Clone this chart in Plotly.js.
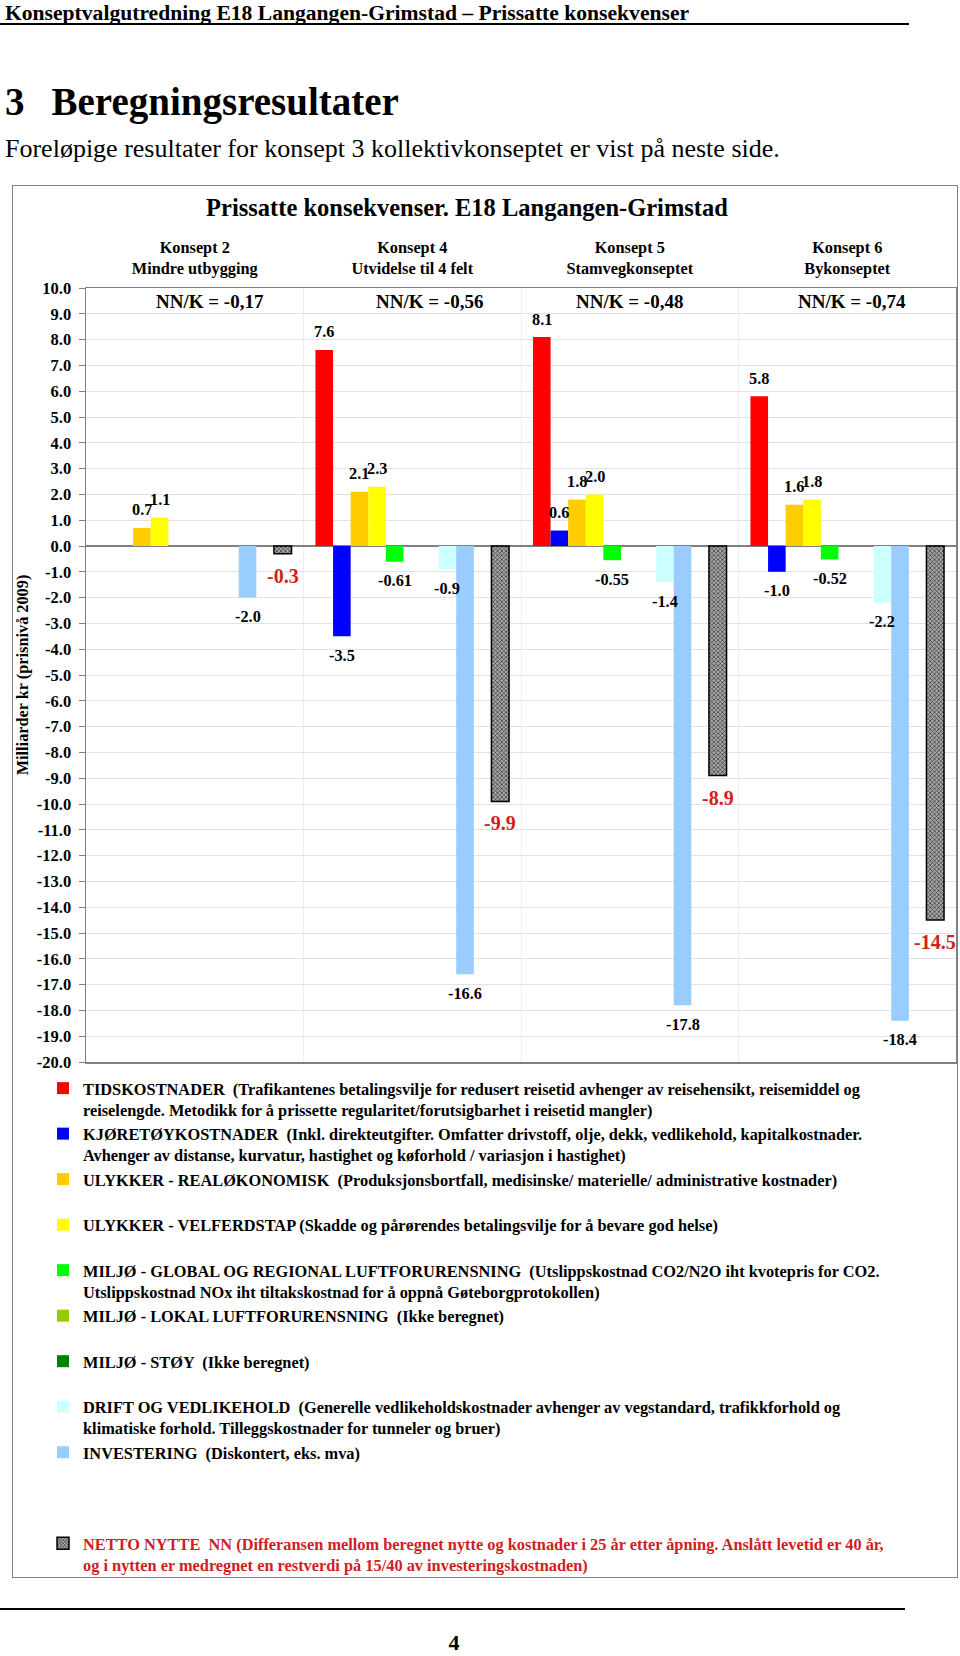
<!DOCTYPE html>
<html><head><meta charset="utf-8">
<script src="https://cdn.plot.ly/plotly-3.0.1.min.js"></script>
<style>
body{margin:0;background:#fff;}
#page{position:relative;width:960px;height:1656px;overflow:hidden;font-family:"Liberation Serif","Times New Roman",serif;color:#000;}
.abs{position:absolute;white-space:nowrap;}
</style></head><body>
<div id="page">
 <div class="abs" style="left:5px;top:0px;font-size:21.6px;font-weight:bold;line-height:26px;">Konseptvalgutredning E18 Langangen-Grimstad – Prissatte konsekvenser</div>
 <div class="abs" style="left:0;top:23px;width:909px;height:2px;background:#000;"></div>
 <div class="abs" style="left:5px;top:78px;font-size:39px;font-weight:bold;line-height:48px;">3<span style="display:inline-block;width:27px"></span>Beregningsresultater</div>
 <div class="abs" style="left:5px;top:134px;font-size:26px;line-height:30px;">Foreløpige resultater for konsept 3 kollektivkonseptet er vist på neste side.</div>
 <div class="abs" style="left:12px;top:185px;width:944px;height:1391px;border:1px solid #808080;"></div>
 <div id="chart" class="abs" style="left:0;top:0;width:960px;height:1656px;"></div>
 <div class="abs" style="left:0;top:1608px;width:905px;height:2px;background:#000;"></div>
 <div class="abs" style="left:434px;top:1631px;width:40px;text-align:center;font-size:22px;font-weight:bold;line-height:24px;">4</div>
</div>
<script>
// ---- data ----
const categories = ['Konsept 2<br>Mindre utbygging', 'Konsept 4<br>Utvidelse til 4 felt', 'Konsept 5<br>Stamvegkonseptet', 'Konsept 6<br>Bykonseptet'];
const nnkLabels = ['NN/K = -0,17', 'NN/K = -0,56', 'NN/K = -0,48', 'NN/K = -0,74'];
const tidskostnader  = [null, 7.6, 8.1, 5.8];
const kjoretoy       = [null, -3.5, 0.6, -1.0];
const ulykkerReal    = [0.7, 2.1, 1.8, 1.6];
const ulykkerVelferd = [1.1, 2.3, 2.0, 1.8];
const miljoGlobal    = [null, -0.61, -0.55, -0.52];
const miljoLokal     = [null, null, null, null];
const miljoStoy      = [null, null, null, null];
const driftVedlikehold = [null, -0.9, -1.4, -2.2];
const investering    = [-2.0, -16.6, -17.8, -18.4];
const blankSeries    = [null, null, null, null];
const nettoNytte     = [-0.3, -9.9, -8.9, -14.5];
const yTickVals   = [10,9,8,7,6,5,4,3,2,1,0,-1,-2,-3,-4,-5,-6,-7,-8,-9,-10,-11,-12,-13,-14,-15,-16,-17,-18,-19,-20];
const yTickLabels = ['10.0','9.0','8.0','7.0','6.0','5.0','4.0','3.0','2.0','1.0','0.0','-1.0','-2.0','-3.0','-4.0','-5.0','-6.0','-7.0','-8.0','-9.0','-10.0','-11.0','-12.0','-13.0','-14.0','-15.0','-16.0','-17.0','-18.0','-19.0','-20.0'];

const RED = '#D02020';
const series = [
  {name:'TIDSKOSTNADER  (Trafikantenes betalingsvilje for redusert reisetid avhenger av reisehensikt, reisemiddel og<br>reiselengde. Metodikk for å prissette regularitet/forutsigbarhet i reisetid mangler)', y:tidskostnader, color:'#FF0000', dec:1},
  {name:'KJØRETØYKOSTNADER  (Inkl. direkteutgifter. Omfatter drivstoff, olje, dekk, vedlikehold, kapitalkostnader.<br>Avhenger av distanse, kurvatur, hastighet og køforhold / variasjon i hastighet)', y:kjoretoy, color:'#0000FF', dec:1},
  {name:'ULYKKER - REALØKONOMISK  (Produksjonsbortfall, medisinske/ materielle/ administrative kostnader)<br>&nbsp;', y:ulykkerReal, color:'#FFCC00', dec:1},
  {name:'ULYKKER - VELFERDSTAP (Skadde og pårørendes betalingsvilje for å bevare god helse)<br>&nbsp;', y:ulykkerVelferd, color:'#FFFF00', dec:1},
  {name:'MILJØ - GLOBAL OG REGIONAL LUFTFORURENSNING  (Utslippskostnad CO2/N2O iht kvotepris for CO2.<br>Utslippskostnad NOx iht tiltakskostnad for å oppnå Gøteborgprotokollen)', y:miljoGlobal, color:'#00FF00', dec:2},
  {name:'MILJØ - LOKAL LUFTFORURENSNING  (Ikke beregnet)<br>&nbsp;', y:miljoLokal, color:'#99CC00', dec:1},
  {name:'MILJØ - STØY  (Ikke beregnet)<br>&nbsp;', y:miljoStoy, color:'#008000', dec:1},
  {name:'DRIFT OG VEDLIKEHOLD  (Generelle vedlikeholdskostnader avhenger av vegstandard, trafikkforhold og<br>klimatiske forhold. Tilleggskostnader for tunneler og bruer)', y:driftVedlikehold, color:'#CCFFFF', dec:1},
  {name:'INVESTERING  (Diskontert, eks. mva)<br>&nbsp;', y:investering, color:'#99CCFF', dec:1},
  {name:'&nbsp;<br>&nbsp;', y:blankSeries, color:'rgba(0,0,0,0)', dec:1, blank:true},
  {name:'<span style="color:'+RED+'">NETTO NYTTE  NN (Differansen mellom beregnet nytte og kostnader i 25 år etter åpning. Anslått levetid er 40 år,</span><br><span style="color:'+RED+'">og i nytten er medregnet en restverdi på 15/40 av investeringskostnaden)</span>', y:nettoNytte, color:'#909090', dec:1, netto:true}
];

const BARGAP = 0.11;
const N = series.length;
const w = (1 - BARGAP) / N;
const FONT = 'Liberation Serif, Times New Roman, serif';

const traces = series.map(s => {
  const t = {
    type:'bar', x:categories, y:s.y, name:s.name,
    marker:{color:s.color, line:{width:0}},
    hoverinfo:'skip'
  };
  if (s.netto) {
    t.marker = {color:s.color, line:{color:'#000', width:1.5},
      pattern:{shape:'x', fgcolor:'#303030', bgcolor:'#A8A8A8', size:3, solidity:0.4}};
  }
  if (s.blank) { t.marker = {color:'rgba(0,0,0,0)', line:{width:0}}; }
  return t;
});

const annotations = [];
series.forEach((s, k) => {
  s.y.forEach((v, i) => {
    if (v === null) return;
    const off = -(1 - BARGAP) / 2 + (k + 0.5) * w;
    annotations.push({
      x: i + off, y: v, xref:'x', yref:'y', showarrow:false,
      text: v.toFixed(s.dec),
      yshift: v >= 0 ? 18 : (s.netto ? -22 : -19),
      font: s.netto ? {family:FONT, size:20, color:RED, weight:'bold'} : {family:FONT, size:16.3, color:'#000', weight:'bold'}
    });
  });
});
const nnkX = [0.07, 1.08, 2.0, 3.02];
nnkLabels.forEach((t, i) => {
  annotations.push({x:nnkX[i], y:9.46, xref:'x', yref:'y', showarrow:false, text:t,
    font:{family:FONT, size:19, color:'#000', weight:'bold'}});
});

const layout = {
  width:960, height:1656,
  margin:{l:86, r:4, t:288, b:594, pad:0},
  paper_bgcolor:'rgba(0,0,0,0)', plot_bgcolor:'rgba(0,0,0,0)',
  font:{family:FONT, color:'#000'},
  barmode:'group', bargap:BARGAP, bargroupgap:0,
  title:{text:'Prissatte konsekvenser. E18 Langangen-Grimstad', font:{family:FONT, size:24.5, weight:'bold', color:'#000'},
    x:467/960, xref:'container', xanchor:'center', y:1-207/1656, yref:'container', yanchor:'middle'},
  xaxis:{type:'category', side:'top', range:[-0.5, 3.5], tickson:'boundaries', showgrid:true, gridcolor:'#EFEFEF',
    ticks:'', tickfont:{family:FONT, size:16.3, weight:'bold'}, showline:true, mirror:true, linecolor:'#808080', linewidth:1.5,
    ticklabelstandoff:6, fixedrange:true, zeroline:false},
  yaxis:{range:[-20, 10], tickvals:yTickVals, ticktext:yTickLabels, ticks:'outside', ticklen:6, tickcolor:'#808080',
    tickfont:{family:FONT, size:16.5, weight:'bold'}, gridcolor:'#E2E2E2', zeroline:true, zerolinecolor:'#808080', zerolinewidth:1.2,
    showline:true, mirror:true, linecolor:'#808080', linewidth:1.5, ticklabelstandoff:4,
    title:{text:'Milliarder kr (prisnivå 2009)', font:{family:FONT, size:16.3, weight:'bold'}, standoff:4}, fixedrange:true},
  showlegend:true,
  legend:{x:(43-86)/870, y:(1062-1071)/774, xanchor:'left', yanchor:'top', orientation:'v', valign:'top',
    font:{family:FONT, size:16.35, weight:'bold', color:'#000'}, bgcolor:'rgba(0,0,0,0)', traceorder:'normal', itemclick:false},
  annotations:annotations
};
Plotly.newPlot('chart', traces, layout, {displayModeBar:false, staticPlot:true});
</script>
</body></html>
